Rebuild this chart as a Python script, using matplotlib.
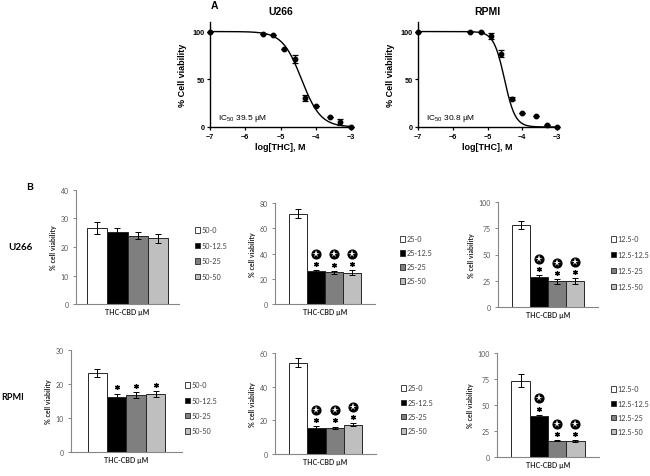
import numpy as np
import matplotlib
matplotlib.use("Agg")
from matplotlib import pyplot as plt
from matplotlib.patches import Rectangle
from matplotlib.transforms import ScaledTranslation

# ---- panel A: dose response ----
log_thc = [-7.0, -5.5, -5.2, -4.9, -4.6, -4.3, -4.0, -3.6, -3.3, -3.0]
u266_viability = [100, 97.5, 96, 82, 71, 30.5, 22, 10.5, 5, 0]
u266_err = [0, 0, 0, 0, 4, 3, 0, 0, 3, 0]
rpmi_viability = [100, 100, 100, 95, 77, 29.5, 15, 12, 2.5, 0]
rpmi_err = [0, 0, 0, 3, 4, 1.5, 0, 0, 0, 0]
u266_ic50_um = 39.5
rpmi_ic50_um = 30.8
u266_hill = 1.6
rpmi_hill = 2.8

# ---- panel B: THC-CBD combinations ----
labels_50 = ["50-0", "50-12.5", "50-25", "50-50"]
labels_25 = ["25-0", "25-12.5", "25-25", "25-50"]
labels_12 = ["12.5-0", "12.5-12.5", "12.5-25", "12.5-50"]

u266_50 = [26.7, 25.1, 24.0, 23.0]
u266_50_err = [2.0, 1.4, 1.3, 1.5]
u266_25 = [71.6, 26.0, 25.0, 24.7]
u266_25_err = [3.3, 0.8, 1.3, 2.0]
u266_12 = [77.8, 28.6, 24.4, 24.8]
u266_12_err = [3.8, 1.5, 2.2, 2.9]

rpmi_50 = [23.3, 16.3, 16.7, 17.1]
rpmi_50_err = [1.2, 0.9, 0.9, 0.9]
rpmi_25 = [54.1, 15.2, 15.4, 17.5]
rpmi_25_err = [2.7, 1.2, 0.8, 0.7]
rpmi_12 = [73.5, 39.3, 15.7, 15.0]
rpmi_12_err = [6.0, 1.3, 0.7, 1.0]

# significance marks (asterisk / circled star) per bar
no_marks = [False, False, False, False]
marked = [False, True, True, True]

W, H = 650, 477
fig = plt.figure(figsize=(W / 100, H / 100), dpi=100)
plt.rcParams["mathtext.default"] = "regular"

prism_font = "Liberation Sans"
xl_font = "Lato"


def px_axes(left, top, right, bottom):
    return fig.add_axes([left / W, 1 - bottom / H, (right - left) / W, (bottom - top) / H])


def fig_text(x, y, s, **kw):
    fig.text(x / W, 1 - y / H, s, **kw)


def dose_panel(rect, title, viab, err, ic50, hill):
    ax = px_axes(*rect)
    xs = np.linspace(-7, -3, 400)
    log_ic50 = np.log10(ic50 * 1e-6)
    ax.plot(xs, 100 / (1 + 10 ** (hill * (xs - log_ic50))), color="black", lw=1.0)
    ax.errorbar(log_thc, viab, yerr=err, fmt="o", color="black", ms=3.2,
                elinewidth=0.9, capsize=2, capthick=0.9, clip_on=False, zorder=3)
    ax.set_xlim(-7, -3)
    ax.set_ylim(0, 110)
    ax.set_xticks([-7, -6, -5, -4, -3])
    ax.set_yticks([0, 50, 100])
    for s in ["top", "right"]:
        ax.spines[s].set_visible(False)
    for s in ["left", "bottom"]:
        ax.spines[s].set_linewidth(1.0)
    ax.tick_params(length=2.5, width=0.9, pad=1.5, labelsize=5.2)
    for t in ax.get_xticklabels() + ax.get_yticklabels():
        t.set_fontweight("bold")
        t.set_family(prism_font)
    ax.set_xlabel("log[THC], M", fontsize=6.5, fontweight="bold", family=prism_font, labelpad=2)
    ax.set_ylabel("% Cell viability", fontsize=6.5, fontweight="bold", family=prism_font, labelpad=4)
    ax.set_title(title, fontsize=7.5, fontweight="bold", family=prism_font, pad=6)
    ax.text(-6.78, 10, "IC$_{50}$ %.1f \u00b5M" % ic50, fontsize=6, family=prism_font,
            ha="left", va="center")
    return ax


dose_panel((210, 23, 351, 128), "U266", u266_viability, u266_err, u266_ic50_um, u266_hill)
dose_panel((418, 23, 557, 128), "RPMI", rpmi_viability, rpmi_err, rpmi_ic50_um, rpmi_hill)

bar_colors = ["white", "black", "#7f7f7f", "#bfbfbf"]
grey = "#868686"


def bar_panel(rect, values, errs, labels, ymax, ystep, gap, ast, star, leg):
    ax = px_axes(*rect)
    x = np.arange(len(values))
    ax.bar(x, values, width=1.0, color=bar_colors, edgecolor="#262626", linewidth=0.7, zorder=2)
    ax.errorbar(x, values, yerr=errs, fmt="none", ecolor="black", elinewidth=0.7,
                capsize=2, capthick=0.7, zorder=3)
    tops = np.array(values) + np.array(errs)
    for i in range(len(values)):
        if ast[i]:
            tr = ax.transData + ScaledTranslation(0, 4.5 / 72, fig.dpi_scale_trans)
            ax.plot(x[i], tops[i], marker=(6, 2, 0), ms=3.6, mew=0.9, color="black",
                    transform=tr, clip_on=False)
        if star[i]:
            tr = ax.transData + ScaledTranslation(0, 11.8 / 72, fig.dpi_scale_trans)
            ax.plot(x[i], tops[i], marker="o", ms=6.3, color="black", transform=tr, clip_on=False)
            ax.plot(x[i], tops[i], marker="*", ms=5.6, color="white", mew=0,
                    transform=tr, clip_on=False)
    ax.set_xlim(-0.5 - gap, len(values) - 0.5 + gap)
    ax.set_ylim(0, ymax)
    ax.set_yticks(np.arange(0, ymax + 1, ystep))
    ax.set_xticks([])
    for s in ["top", "right"]:
        ax.spines[s].set_visible(False)
    for s in ["left", "bottom"]:
        ax.spines[s].set_color(grey)
        ax.spines[s].set_linewidth(0.8)
    ax.tick_params(axis="y", length=2.5, width=0.7, color=grey, pad=2.5, labelsize=5,
                   labelcolor="#595959")
    for t in ax.get_yticklabels():
        t.set_family(xl_font)
    ax.set_xlabel("THC-CBD \u00b5M", fontsize=5, fontweight="bold", family=xl_font,
                  labelpad=3, color="#262626")
    ax.set_ylabel("% cell viability", fontsize=5, fontweight="bold", family=xl_font,
                  labelpad=2.5, color="#262626")

    # legend, drawn by hand like the spreadsheet one
    lx, ly, dy = leg
    for i, lab in enumerate(labels):
        yy = ly + i * dy
        fig.add_artist(Rectangle((lx / W, 1 - (yy + 2.6) / H), 5.2 / W, 5.2 / H,
                                 facecolor=bar_colors[i], edgecolor="#262626", lw=0.6,
                                 transform=fig.transFigure))
        fig_text(lx + 6.5, yy, lab, fontsize=5.2, family=xl_font, color="#404040",
                 ha="left", va="center")
    return ax


bar_panel((76, 191, 179, 305), u266_50, u266_50_err, labels_50, 40, 10, 0.57,
          no_marks, no_marks, (195, 231, 15.5))
bar_panel((275, 204, 375, 305), u266_25, u266_25_err, labels_25, 80, 20, 0.79,
          marked, marked, (400, 240, 14))
bar_panel((498, 203, 598, 308), u266_12, u266_12_err, labels_12, 100, 25, 0.78,
          marked, marked, (611, 240, 15.7))
bar_panel((71, 351, 182, 453), rpmi_50, rpmi_50_err, labels_50, 30, 10, 0.85,
          marked, no_marks, (185, 386, 15.3))
bar_panel((275, 354, 376, 455), rpmi_25, rpmi_25_err, labels_25, 60, 20, 0.73,
          marked, marked, (401, 389, 14.3))
bar_panel((497, 354, 599, 458), rpmi_12, rpmi_12_err, labels_12, 100, 25, 0.79,
          marked, marked, (611, 390, 14.2))

fig_text(214, 6, "A", fontsize=7.5, fontweight="bold", family=prism_font, ha="center", va="center")
fig_text(30, 188, "B", fontsize=7.5, fontweight="bold", family=xl_font, ha="center", va="center")
fig_text(8, 247, "U266", fontsize=7, fontweight="bold", family=xl_font, ha="left", va="center")
fig_text(1, 398, "RPMI", fontsize=6.5, fontweight="bold", family=xl_font, ha="left", va="center")

fig.savefig("out.png", dpi=100)
